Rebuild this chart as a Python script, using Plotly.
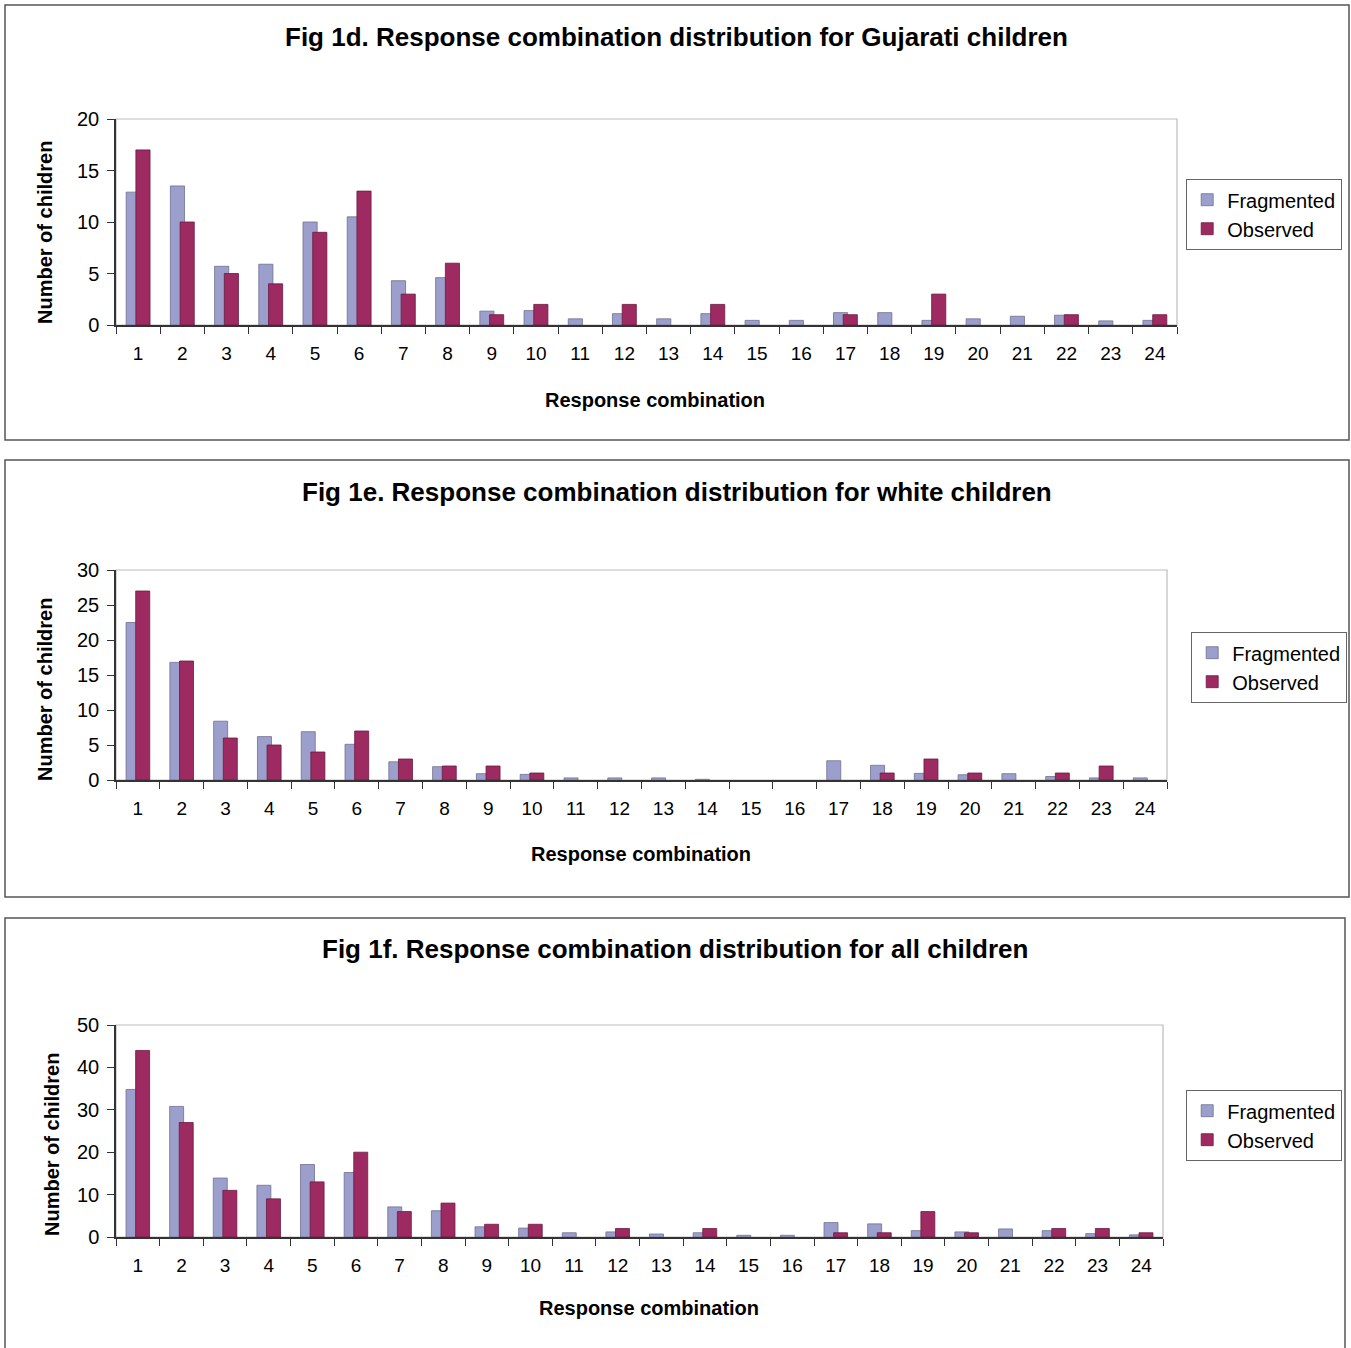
import plotly.graph_objects as go

categories = [str(i) for i in range(1, 25)]

guj_fragmented = [12.9, 13.5, 5.7, 5.9, 10.0, 10.5, 4.3, 4.6, 1.35, 1.4, 0.6, 1.1,
                  0.6, 1.1, 0.45, 0.45, 1.2, 1.2, 0.45, 0.6, 0.85, 0.95, 0.4, 0.45]
guj_observed = [17, 10, 5, 4, 9, 13, 3, 6, 1, 2, 0, 2,
                0, 2, 0, 0, 1, 0, 3, 0, 0, 1, 0, 1]

white_fragmented = [22.5, 16.8, 8.4, 6.2, 6.9, 5.1, 2.6, 1.9, 0.9, 0.8, 0.3, 0.3,
                    0.3, 0.1, 0, 0, 2.75, 2.1, 0.95, 0.75, 0.9, 0.5, 0.3, 0.3]
white_observed = [27, 17, 6, 5, 4, 7, 3, 2, 2, 1, 0, 0,
                  0, 0, 0, 0, 0, 1, 3, 1, 0, 1, 2, 0]

all_fragmented = [34.8, 30.8, 13.9, 12.2, 17.1, 15.2, 7.1, 6.2, 2.4, 2.1, 1.0, 1.2,
                  0.7, 1.0, 0.4, 0.4, 3.4, 3.1, 1.5, 1.2, 1.9, 1.5, 0.8, 0.5]
all_observed = [44, 27, 11, 9, 13, 20, 6, 8, 3, 3, 0, 2,
                0, 2, 0, 0, 1, 1, 6, 1, 0, 2, 2, 1]

titles = ["Fig 1d. Response combination distribution for Gujarati children",
          "Fig 1e. Response combination distribution for white children",
          "Fig 1f. Response combination distribution for all children"]

W, H = 1351, 1348
FONT = "Liberation Sans, Arial, sans-serif"
FRAG_COLOR = "#9C9FCC"
OBS_COLOR = "#9E2A62"


def fx(p):
    return p / W


def fy(p):
    return 1 - p / H


def outline_widths(values):
    return [0.8 if v > 0 else 0 for v in values]


panels = [
    dict(frag=guj_fragmented, obs=guj_observed, plot=(116, 1177, 119, 325), ymax=20, dtick=5,
         box=(5, 1349, 5, 440), title_y=37, title_x=677, xt=(655, 400), yt=(45, 233),
         legend=(1186, 179)),
    dict(frag=white_fragmented, obs=white_observed, plot=(116, 1167, 570, 780), ymax=30, dtick=5,
         box=(5, 1349, 460, 897), title_y=492, title_x=677, xt=(641, 854), yt=(45, 690),
         legend=(1191, 632)),
    dict(frag=all_fragmented, obs=all_observed, plot=(116, 1163, 1025, 1237), ymax=50, dtick=10,
         box=(5, 1345, 918, 1360), title_y=949, title_x=675, xt=(649, 1308), yt=(52, 1145),
         legend=(1186, 1090)),
]

fig = go.Figure()
shapes = []
annotations = []
layout_extra = {}

for i, p in enumerate(panels):
    n = i + 1
    xa = "x" if n == 1 else f"x{n}"
    ya = "y" if n == 1 else f"y{n}"
    lg = "legend" if n == 1 else f"legend{n}"
    fig.add_trace(go.Bar(x=categories, y=p["frag"], name="Fragmented", xaxis=xa, yaxis=ya,
                         marker=dict(color=FRAG_COLOR,
                                     line=dict(color="#6E7090", width=outline_widths(p["frag"]))),
                         offset=-0.27, width=0.32, legend=lg))
    fig.add_trace(go.Bar(x=categories, y=p["obs"], name="Observed", xaxis=xa, yaxis=ya,
                         marker=dict(color=OBS_COLOR,
                                     line=dict(color="#6B1A40", width=outline_widths(p["obs"]))),
                         offset=-0.05, width=0.32, legend=lg))
    x0, x1, y0, y1 = p["plot"]
    xkey = "xaxis" if n == 1 else f"xaxis{n}"
    ykey = "yaxis" if n == 1 else f"yaxis{n}"
    layout_extra[xkey] = dict(
        domain=[fx(x0), fx(x1)], anchor=ya, type="category", range=[-0.5, 23.5],
        showgrid=False, showline=True, linecolor="#333333", linewidth=1.5,
        ticks="outside", tickson="boundaries", ticklen=7, tickcolor="#333333",
        ticklabelstandoff=10, automargin=False,
        tickfont=dict(family=FONT, size=19, color="black"), fixedrange=True)
    layout_extra[ykey] = dict(
        domain=[fy(y1), fy(y0)], anchor=xa, range=[0, p["ymax"]], dtick=p["dtick"],
        showgrid=False, showline=True, linecolor="#333333", linewidth=1.5,
        ticks="outside", ticklen=7, tickcolor="#333333", zeroline=False,
        ticklabelstandoff=4, automargin=False,
        tickfont=dict(family=FONT, size=20, color="black"))
    layout_extra[lg] = dict(
        x=fx(p["legend"][0]), y=fy(p["legend"][1]), xanchor="left", yanchor="top",
        xref="paper", yref="paper",
        bgcolor="white", bordercolor="#666666", borderwidth=1.2,
        font=dict(family=FONT, size=20, color="black"), tracegroupgap=0,
        itemwidth=30)
    # plot area frame (gray top/right)
    shapes.append(dict(type="rect", xref="paper", yref="paper",
                       x0=fx(x0), x1=fx(x1), y0=fy(y1), y1=fy(y0),
                       line=dict(color="#BBBBBB", width=1.2), layer="below"))
    # panel border
    bx0, bx1, by0, by1 = p["box"]
    shapes.append(dict(type="rect", xref="paper", yref="paper",
                       x0=fx(bx0), x1=fx(bx1), y0=fy(by1), y1=fy(by0),
                       line=dict(color="#555555", width=1.5)))
    annotations.append(dict(text=f"<b>{titles[i]}</b>", xref="paper", yref="paper",
                            x=fx(p["title_x"]), y=fy(p["title_y"]), xanchor="center", yanchor="middle",
                            showarrow=False, font=dict(family=FONT, size=26, color="black")))
    annotations.append(dict(text="<b>Response combination</b>", xref="paper", yref="paper",
                            x=fx(p["xt"][0]), y=fy(p["xt"][1]), xanchor="center", yanchor="middle",
                            showarrow=False, font=dict(family=FONT, size=20, color="black")))
    annotations.append(dict(text="<b>Number of children</b>", xref="paper", yref="paper",
                            x=fx(p["yt"][0]), y=fy(p["yt"][1]), xanchor="center", yanchor="middle",
                            textangle=-90, showarrow=False,
                            font=dict(family=FONT, size=20, color="black")))

fig.update_layout(
    width=W, height=H, margin=dict(l=0, r=0, t=0, b=0, autoexpand=False),
    paper_bgcolor="white", plot_bgcolor="white",
    barmode="overlay", showlegend=True,
    shapes=shapes, annotations=annotations,
    font=dict(family=FONT, color="black"),
    **layout_extra,
)

fig.write_html("out.html", config={"displayModeBar": False},
               post_script="document.body.style.margin='0';document.body.style.overflow='hidden';")
